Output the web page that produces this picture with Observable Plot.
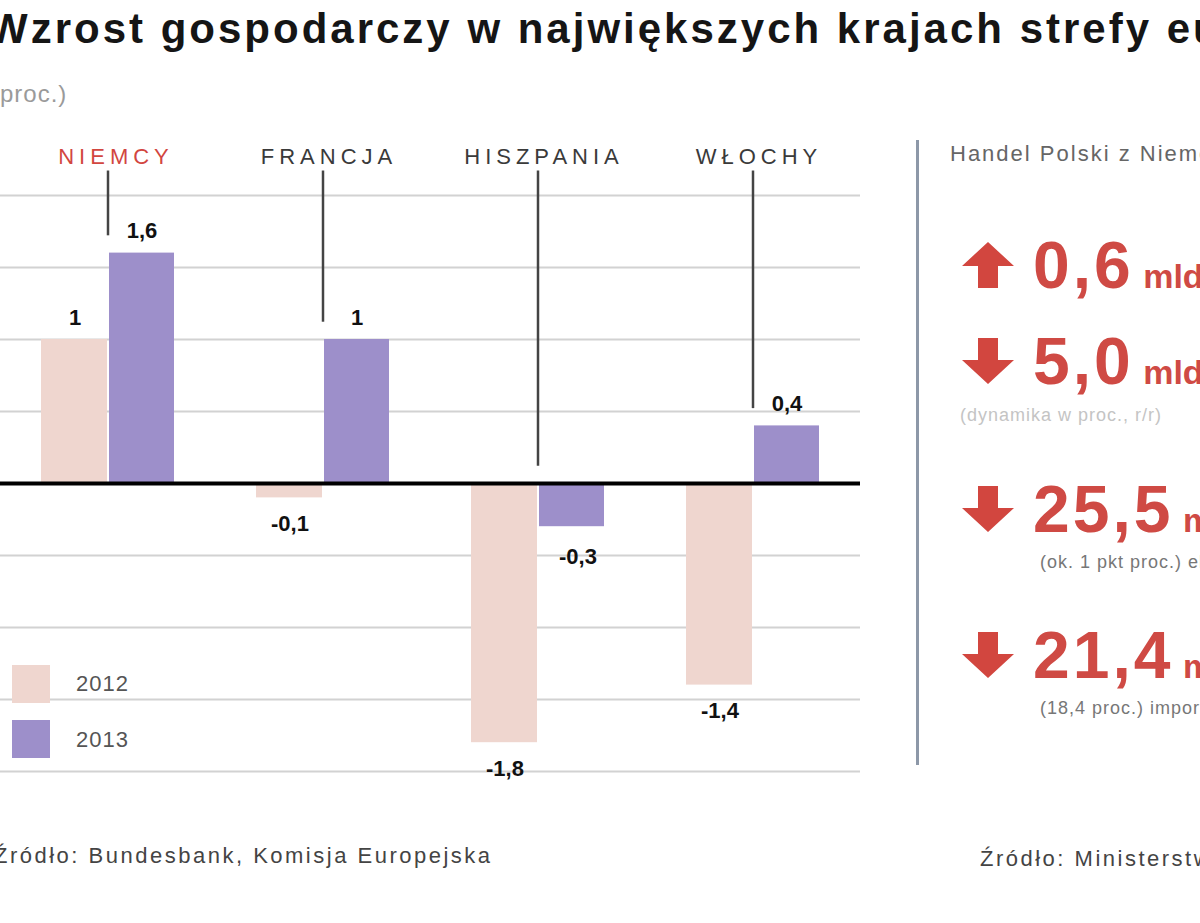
<!DOCTYPE html>
<html><head><meta charset="utf-8">
<script src="https://cdn.jsdelivr.net/npm/d3@7"></script>
<script src="https://cdn.jsdelivr.net/npm/@observablehq/plot@0.6"></script>
<style>
body{margin:0;background:#fff;}
#wrap{position:relative;width:1200px;height:923px;overflow:hidden;font-family:"Liberation Sans",Arial,sans-serif;background:#fff;}
.abs{position:absolute;white-space:nowrap;}
#title{left:-12px;top:5px;font-size:42px;font-weight:bold;color:#151515;letter-spacing:3px;}
#sub{left:-9px;top:80px;font-size:24px;color:#9a9a9a;letter-spacing:1px;}
#chart{position:absolute;left:0;top:120px;}
.sw{position:absolute;width:38px;height:38px;}
.lg{font-size:22px;color:#555;letter-spacing:1px;}
#sep{position:absolute;left:916px;top:140px;width:3px;height:625px;background:#8d98a8;}
#rhead{left:950px;top:141px;font-size:22px;color:#666;letter-spacing:2px;}
.big{font-size:66px;font-weight:bold;color:#cf4a44;line-height:70px;letter-spacing:3px;}
.big small{font-size:34px;letter-spacing:0;}
.note{font-size:18px;color:#777;letter-spacing:1px;}
.src{font-size:22px;color:#444;letter-spacing:2.5px;}
.arrow{position:absolute;}
</style></head><body>
<div id="wrap">
  <div id="title" class="abs">Wzrost gospodarczy w największych krajach strefy euro</div>
  <div id="sub" class="abs">(proc.)</div>
  <div id="chart"></div>
  <div class="sw" style="left:12px;top:665px;background:#efd6cf;"></div>
  <div class="abs lg" style="left:76px;top:671px;">2012</div>
  <div class="sw" style="left:12px;top:720px;background:#9d8fca;"></div>
  <div class="abs lg" style="left:76px;top:727px;">2013</div>

  <div id="sep"></div>
  <div id="rhead" class="abs">Handel Polski z Niemcami</div>
  <div id="right"></div>

  <div class="abs src" style="left:-6px;top:843px;">Źródło: Bundesbank, Komisja Europejska</div>
  <div class="abs src" style="left:980px;top:846px;">Źródło: Ministerstwo Gospodarki</div>
</div>
<script>
// ---- data ----
const countries = ["NIEMCY", "FRANCJA", "HISZPANIA", "WŁOCHY"];
const values2012 = [1, -0.1, -1.8, -1.4];
const values2013 = [1.6, 1, -0.3, 0.4];
const years = ["2012", "2013"];
const yTicks = [-2, -1.5, -1, -0.5, 0, 0.5, 1, 1.5, 2];

// right panel data
const tradeValues = ["0,6", "5,0", "25,5", "21,4"];
const tradeDirections = ["up", "down", "down", "down"];
const tradeUnits = [" mld euro", " mld euro", " mld euro", " mld euro"];
const tradeNotes = ["", "", "(ok. 1 pkt proc.) eksport", "(18,4 proc.) import"];

// ---- chart ----
const colors = {"2012": "#efd6cf", "2013": "#9d8fca"};
const red = "#d2463f";
const rows2012 = countries.map((c, i) => ({country: c, value: values2012[i]}));
const rows2013 = countries.map((c, i) => ({country: c, value: values2013[i]}));
const leaders = countries.map((c, i) => ({country: c, v: values2013[i]}));
const fmt = v => String(v).replace(".", ",");
const yTop = d3.max(yTicks);

const chart = Plot.plot({
  width: 880,
  height: 700,
  marginLeft: 0,
  marginRight: 20,
  marginTop: 75,
  marginBottom: 49,
  x: {type: "band", domain: countries, padding: 0, axis: null},
  y: {domain: [d3.min(yTicks), yTop], axis: null},
  style: {fontFamily: "Liberation Sans, Arial, sans-serif", background: "transparent"},
  marks: [
    Plot.ruleY(yTicks.filter(d => d !== 0), {stroke: "#d2d2d2", strokeWidth: 2}),
    Plot.barY(rows2012, {x: "country", y: "value", fill: colors["2012"], insetLeft: 41, insetRight: 108}),
    Plot.barY(rows2013, {x: "country", y: "value", fill: colors["2013"], insetLeft: 109, insetRight: 41}),
    Plot.ruleY([0], {stroke: "#000", strokeWidth: 4}),
    Plot.ruleX(leaders, {x: "country", y1: () => yTop + 0.17, y2: d => Math.max(d.v, 0) + 0.12, stroke: "#444", strokeWidth: 2.5}),
    Plot.text(countries.filter(c => c === "NIEMCY"), {x: d => d, frameAnchor: "top", dy: -47, dx: 8, text: d => d, fill: red, fontSize: 22}),
    Plot.text(countries.filter(c => c !== "NIEMCY"), {x: d => d, frameAnchor: "top", dy: -47, dx: 6, text: d => d, fill: "#3a3a3a", fontSize: 22}),
    Plot.text(rows2012.filter(d => d.value >= 0), {x: "country", y: "value", text: d => fmt(d.value), dx: -33, dy: -22, fontSize: 22, fontWeight: "bold", fill: "#111"}),
    Plot.text(rows2012.filter(d => d.value < 0), {x: "country", y: "value", text: d => fmt(d.value), dx: -33, dy: 26, fontSize: 22, fontWeight: "bold", fill: "#111"}),
    Plot.text(rows2013.filter(d => d.value >= 0), {x: "country", y: "value", text: d => fmt(d.value), dx: 34, dy: -22, fontSize: 22, fontWeight: "bold", fill: "#111"}),
    Plot.text(rows2013.filter(d => d.value < 0), {x: "country", y: "value", text: d => fmt(d.value), dx: 40, dy: 30, fontSize: 22, fontWeight: "bold", fill: "#111"})
  ]
});
d3.select(chart).selectAll("text")
  .filter(function() { return countries.includes(this.textContent); })
  .style("letter-spacing", "5px");
document.getElementById("chart").appendChild(chart);

// ---- right panel ----
const right = document.getElementById("right");
const rowTops = [230, 326, 474, 620];
tradeValues.forEach((v, i) => {
  const top = rowTops[i];
  const up = tradeDirections[i] === "up";
  const arrow = up
    ? `<svg class="arrow" style="left:960px;top:${top + 10}px" width="56" height="50"><polygon points="28,2 54,26 38,26 38,48 18,48 18,26 2,26" fill="${red}"/></svg>`
    : `<svg class="arrow" style="left:960px;top:${top + 10}px" width="56" height="50"><polygon points="28,48 54,24 38,24 38,2 18,2 18,24 2,24" fill="${red}"/></svg>`;
  right.insertAdjacentHTML("beforeend", arrow +
    `<div class="abs big" style="left:1033px;top:${top}px">${v}<small>${tradeUnits[i]}</small></div>` +
    (tradeNotes[i] ? `<div class="abs note" style="left:1040px;top:${top + 78}px">${tradeNotes[i]}</div>` : ""));
});
right.insertAdjacentHTML("beforeend", `<div class="abs note" style="left:960px;top:405px;color:#c4c4c4">(dynamika w proc., r/r)</div>`);
</script>
</body></html>
